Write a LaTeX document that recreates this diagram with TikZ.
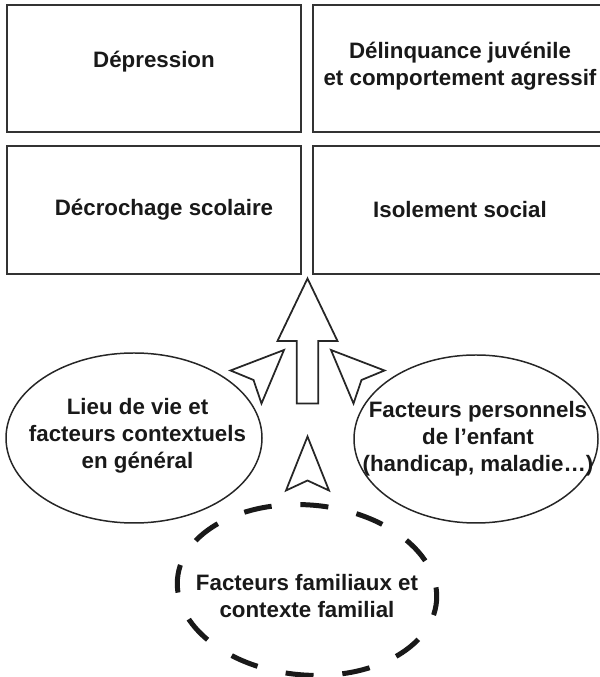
\documentclass[tikz,border=0pt]{standalone}
\usepackage{fontspec}
\setmainfont{Liberation Sans}
\usepackage{tikz}
\usetikzlibrary{shapes.geometric}

\begin{document}
\begin{tikzpicture}[
	boite/.style={draw=black!80, line width=1.1pt, minimum width=5.88cm, minimum height=2.55cm, inner sep=0pt},
	texte/.style={align=center, text=black!90, inner sep=0pt, font=\fontsize{12.7}{15.4}\selectfont\bfseries},
	bulle/.style={ellipse, draw=black!85, line width=0.85pt, inner sep=0pt},
	famille/.style={ellipse, draw=black!90, line width=0.1cm, dash pattern=on 0.56cm off 0.578cm, dash phase=0.28cm, inner sep=0pt, minimum width=5.2cm, minimum height=3.4cm, rotate=-5},
	fleche/.style={draw=black!85, line width=1pt, fill=white},
]
	%\draw[help lines, thick] (0,0) grid (12,14);
	\useasboundingbox (0,0) rectangle (11.98,13.54);
	\node[boite] (depression) at (3.08,12.17) {};
	\node[boite] (delinquance) at (9.20,12.17) {};
	\node[boite, minimum height=2.56cm] (decrochage) at (3.08,9.34) {};
	\node[boite, minimum height=2.56cm] (isolement) at (9.20,9.34) {};
	\node[texte] (t-depression) at ([yshift=0.13cm]depression.center) {Dépression};
	\node[texte] (t-delinquance) at ([yshift=0.05cm]delinquance.center) {Délinquance juvénile\\et comportement agressif};
	\node[texte] (t-decrochage) at ([xshift=0.2cm]decrochage.center) {Décrochage scolaire};
	\node[texte] (t-isolement) at (isolement.center) {Isolement social};
	\draw[fleche] (6.15,7.97) -- (6.75,6.72) -- (6.365,6.72) -- (6.365,5.47) -- (5.935,5.47) -- (5.935,6.72) -- (5.55,6.72) -- cycle;
	\draw[fleche] (5.68,6.54) -- (4.61,6.13) -- (5.07,5.94) -- (5.23,5.47) -- cycle;
	\draw[fleche] (6.62,6.54) -- (7.69,6.13) -- (7.23,5.94) -- (7.07,5.47) -- cycle;
	\draw[fleche] (6.15,4.81) -- (5.72,3.73) -- (6.15,3.93) -- (6.58,3.73) -- cycle;
	\node[bulle, minimum width=5.12cm, minimum height=3.4cm] (lieu) at (2.68,4.78) {};
	\node[bulle, minimum width=4.88cm, minimum height=3.36cm] (enfant) at (9.52,4.76) {};
	\node[texte] (t-lieu) at ([xshift=0.07cm, yshift=0.04cm]lieu.center) {Lieu de vie et\\facteurs contextuels\\en général};
	\node[texte] (t-enfant) at ([xshift=0.04cm]enfant.center) {Facteurs personnels\\de l’enfant\\(handicap, maladie…)};
	\node[famille] (famille) at (6.14,1.74) {};
	\node[texte] (t-famille) at ([yshift=-0.12cm]famille.center) {Facteurs familiaux et\\contexte familial};
\end{tikzpicture}
\end{document}
